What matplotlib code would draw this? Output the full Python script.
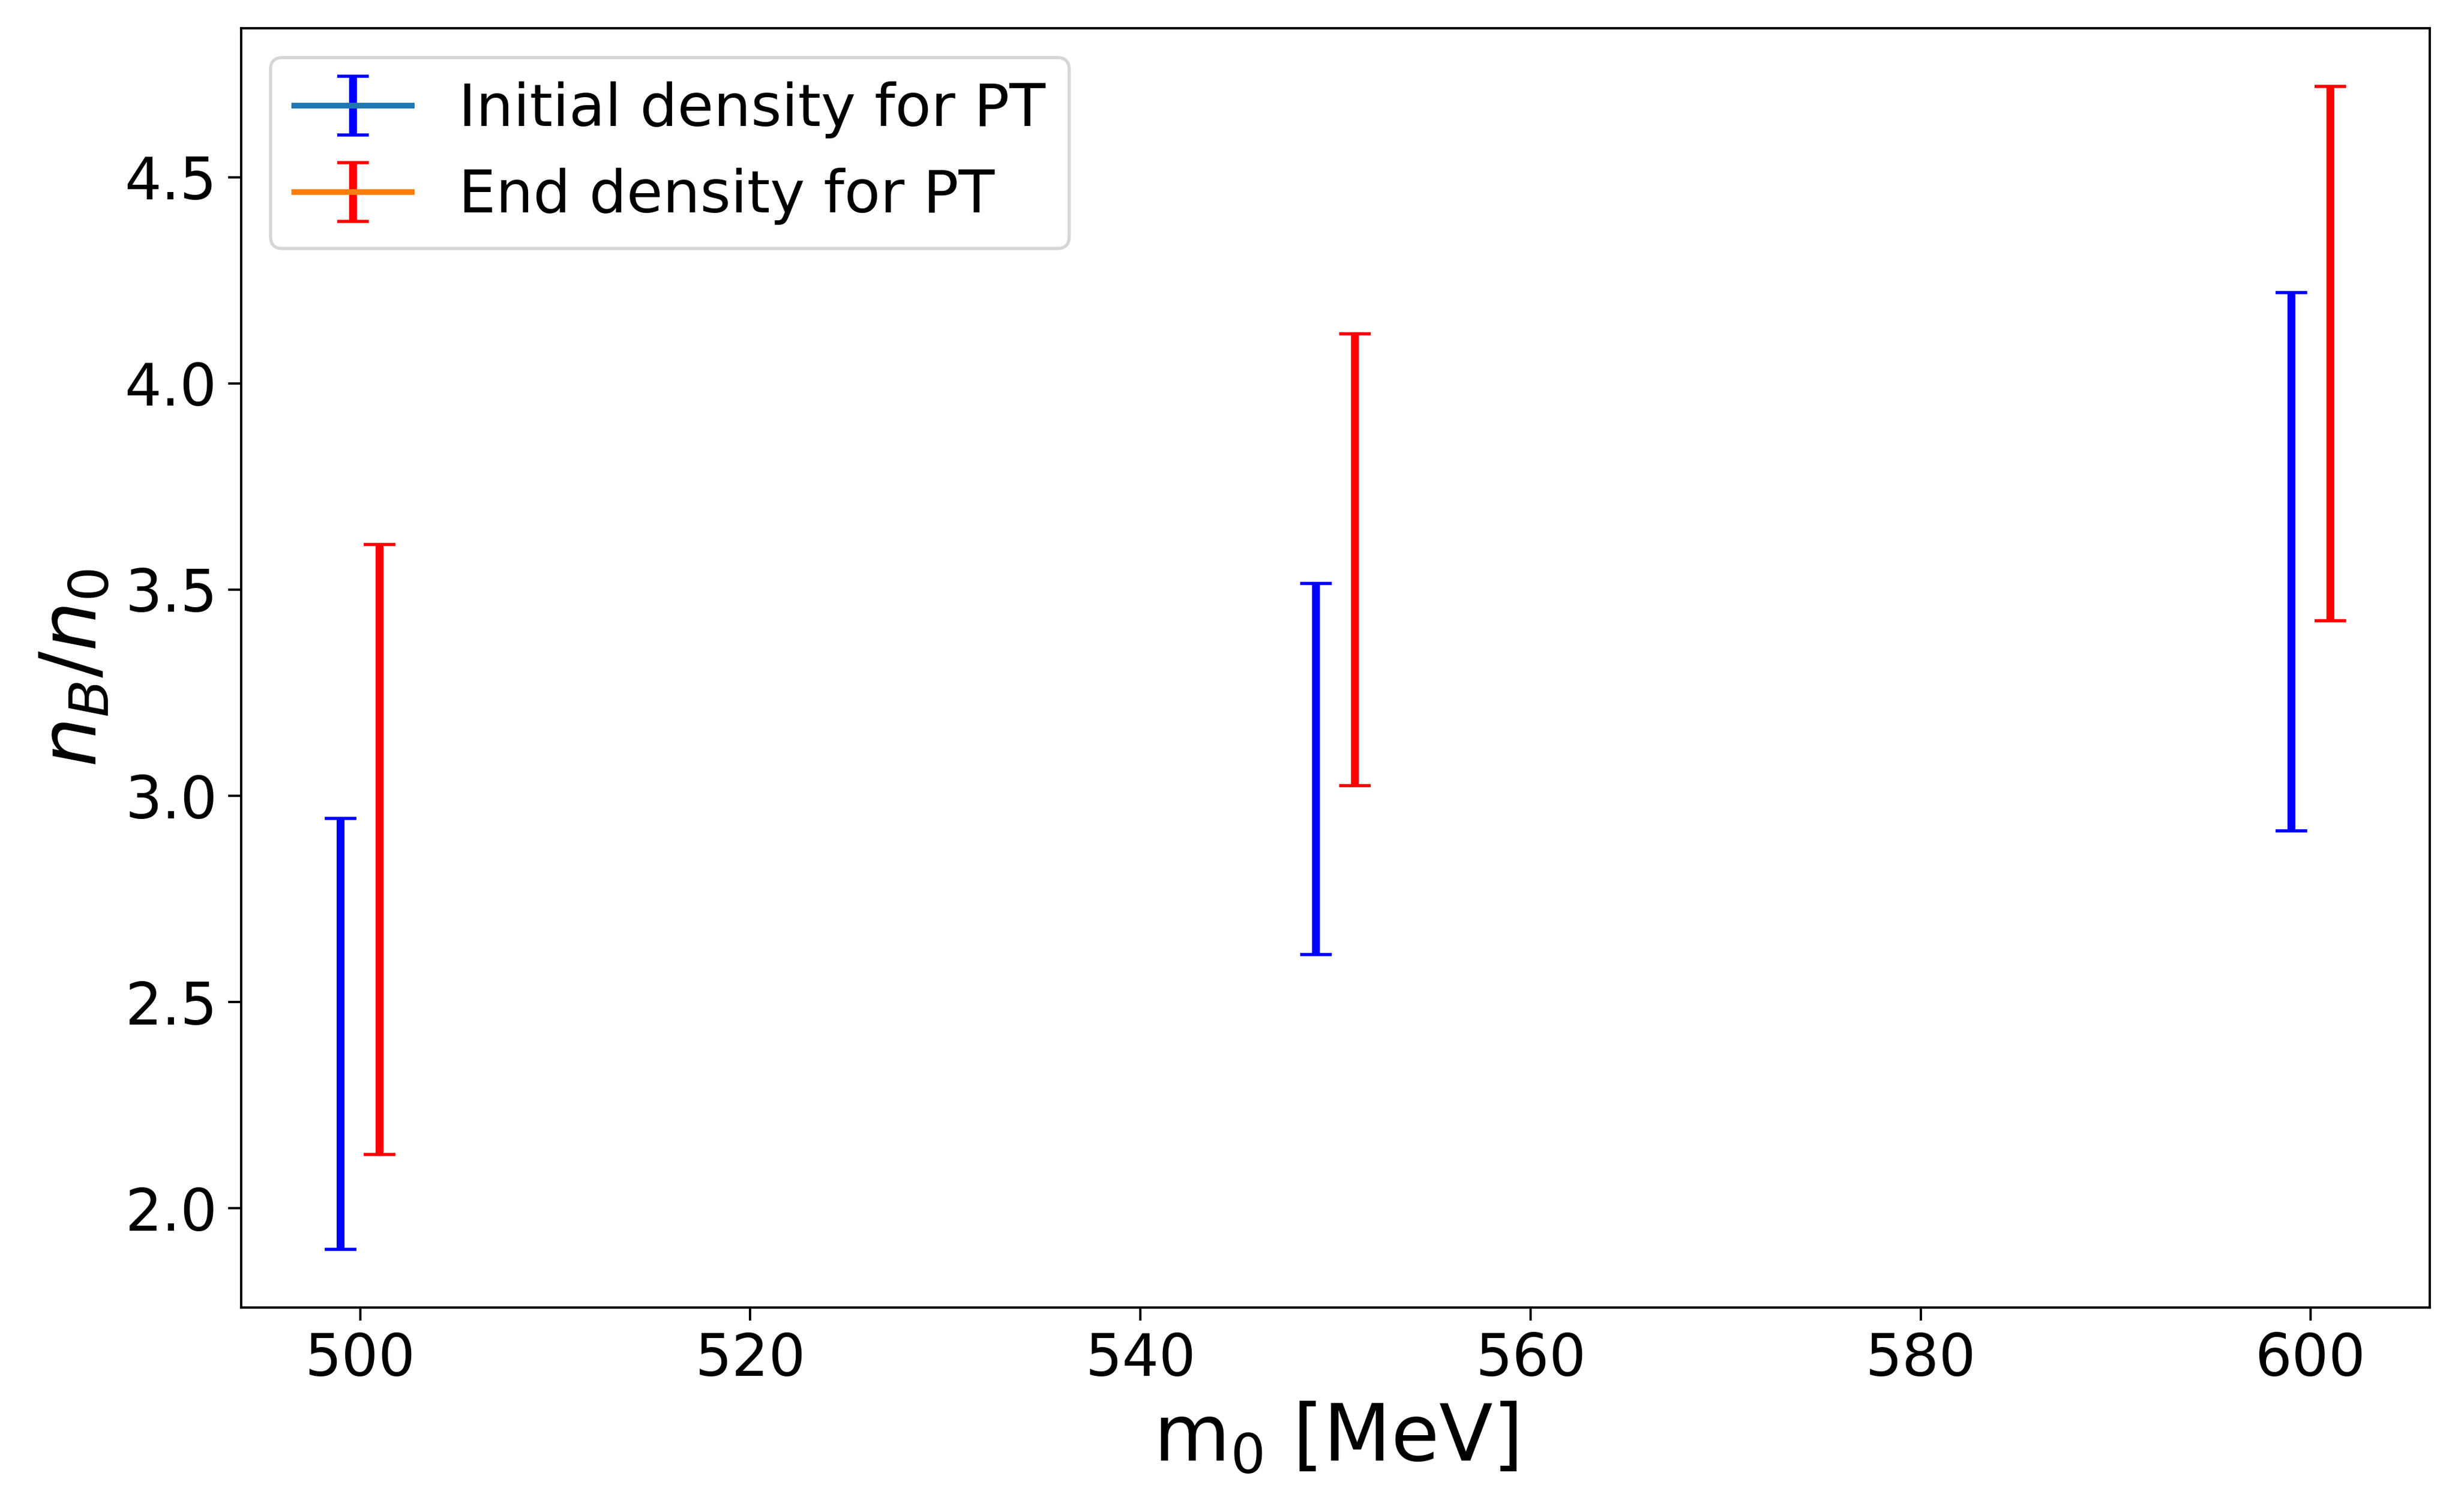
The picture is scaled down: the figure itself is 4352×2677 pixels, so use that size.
import matplotlib
matplotlib.use("Agg")
import matplotlib.pyplot as plt
import numpy as np

# m0 values [MeV], slightly offset so the two bars don't overlap
m0_initial = [499, 549, 599]
m0_end = [501, 551, 601]

# density ranges n_B/n_0 (lower, upper)
initial_low = [1.90, 2.615, 2.915]
initial_high = [2.945, 3.515, 4.22]
end_low = [2.13, 3.025, 3.425]
end_high = [3.61, 4.12, 4.72]


def mid_and_err(low, high):
    low = np.array(low)
    high = np.array(high)
    mid = (low + high) / 2
    err = (high - low) / 2
    return mid, err


def main():
    fig = plt.figure(figsize=(10.88, 6.6925), dpi=400)
    ax = fig.add_axes([0.0981, 0.1352, 0.8904, 0.846])

    init_mid, init_err = mid_and_err(initial_low, initial_high)
    end_mid, end_err = mid_and_err(end_low, end_high)

    # one call per point, so no connecting line is drawn
    for i in range(len(m0_initial)):
        ax.errorbar([m0_initial[i]], [init_mid[i]], yerr=[init_err[i]],
                    color='C0', ecolor='blue', elinewidth=2.5, capsize=5,
                    capthick=1.0, lw=1.8,
                    label='Initial density for PT' if i == 0 else None)
        ax.errorbar([m0_end[i]], [end_mid[i]], yerr=[end_err[i]],
                    color='C1', ecolor='red', elinewidth=2.5, capsize=5,
                    capthick=1.0, lw=1.8,
                    label='End density for PT' if i == 0 else None)

    ax.set_xlabel(r'm$_0$ [MeV]', fontsize=25)
    ax.set_ylabel(r'$n_B/n_0$', fontsize=25)
    ax.tick_params(axis='both', labelsize=18.5, length=4.1, width=0.75)
    for sp in ax.spines.values():
        sp.set_linewidth(0.75)
    ax.legend(loc='upper left', fontsize=18.75)

    fig.savefig("out.png", dpi=400)


if __name__ == "__main__":
    main()
